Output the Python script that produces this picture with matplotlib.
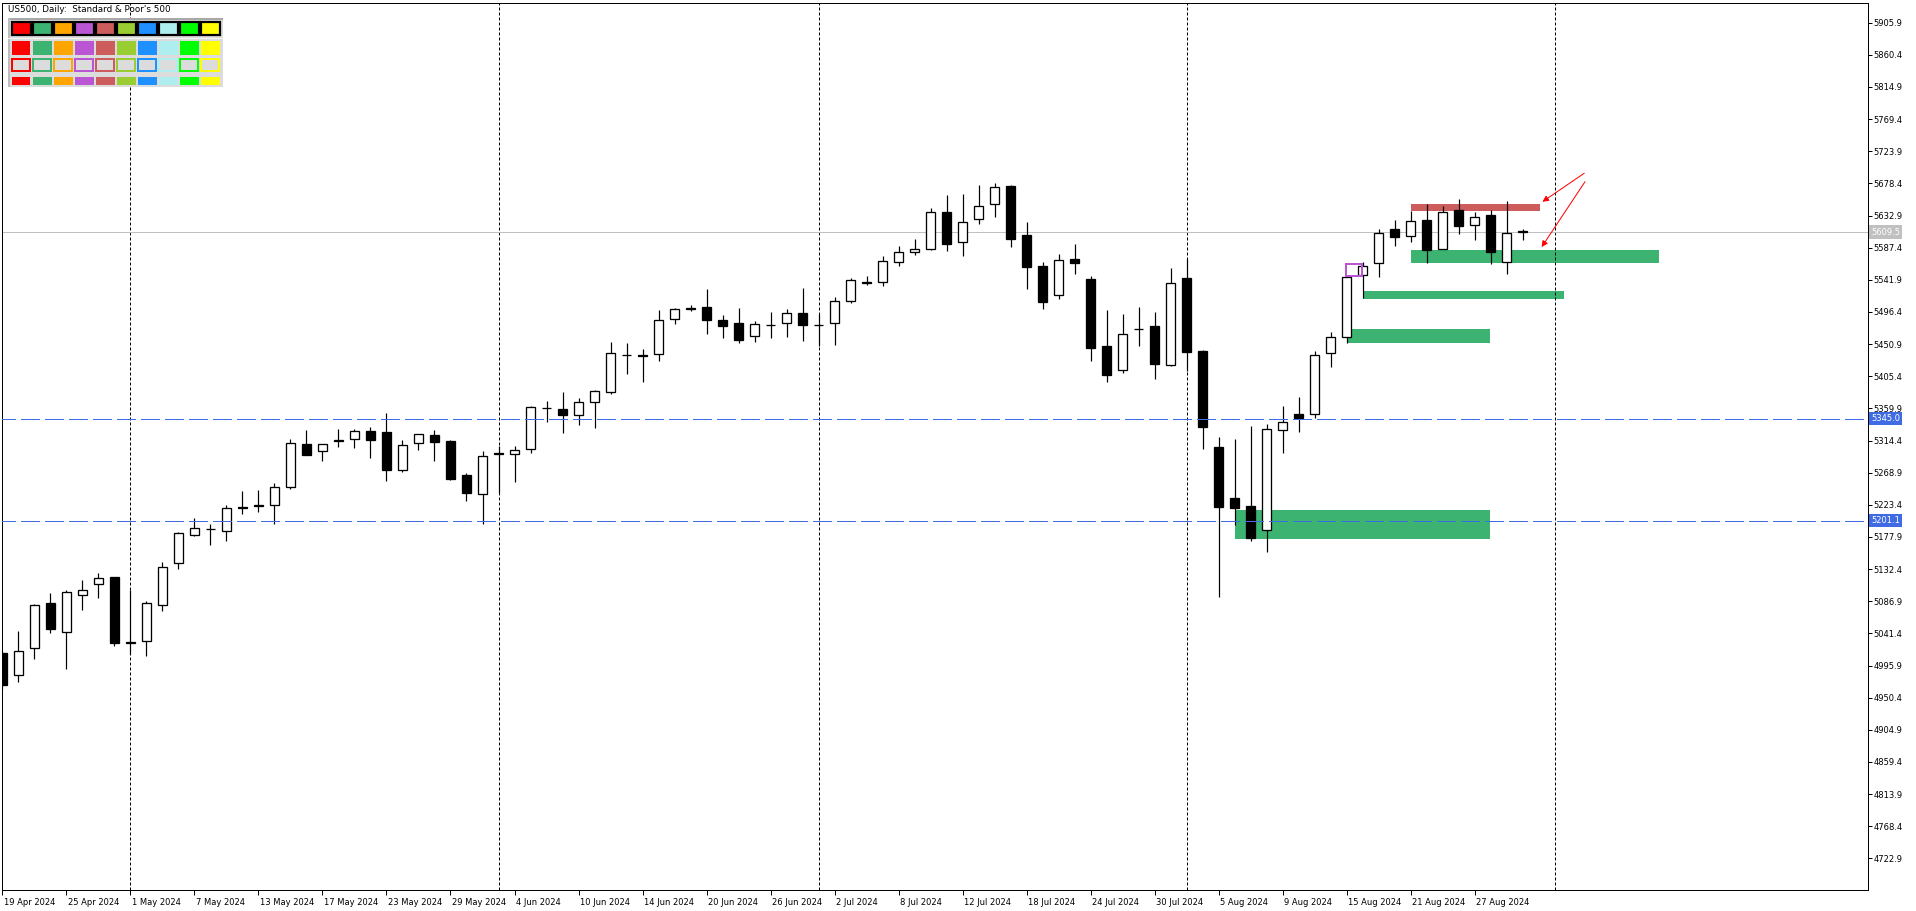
import matplotlib
matplotlib.use("Agg")
import matplotlib.pyplot as plt
import matplotlib.transforms as mtransforms
from matplotlib.patches import Rectangle, FancyArrowPatch

# daily bars, 19 Apr 2024 .. 30 Aug 2024 (index 0..95)
opens = [5013.6, 4982.0, 5020.2, 5083.9, 5042.9, 5095.3, 5110.8, 5120.7, 5028.5, 5031.1,
         5082.0, 5141.5, 5181.1, 5189.7, 5186.8, 5219.9, 5222.7, 5222.7, 5248.2, 5309.0,
         5299.1, 5314.7, 5316.1, 5327.9, 5326.5, 5272.2, 5310.4, 5321.8, 5313.3, 5265.1,
         5238.2, 5296.3, 5294.9, 5301.9, 5360.9, 5358.5, 5350.0, 5368.4, 5382.6, 5436.0,
         5435.0, 5436.4, 5485.9, 5501.5, 5502.9, 5484.5, 5480.3, 5461.9, 5478.4, 5480.3,
         5494.4, 5478.5, 5481.2, 5511.4, 5538.8, 5538.3, 5566.6, 5580.8, 5585.1, 5637.5,
         5595.0, 5627.5, 5648.8, 5674.7, 5604.9, 5561.0, 5520.9, 5570.9, 5542.6, 5447.8,
         5413.8, 5472.0, 5476.1, 5421.8, 5544.0, 5440.7, 5304.8, 5232.6, 5221.3, 5187.3,
         5328.8, 5351.5, 5351.5, 5437.8, 5460.5, 5548.2, 5565.2, 5613.3, 5603.4, 5626.1,
         5585.0, 5640.2, 5619.0, 5633.2, 5566.6, 5610.5]
highs = [5016.0, 5044.8, 5083.0, 5098.6, 5102.3, 5117.0, 5126.9, 5121.5, 5102.3, 5087.2,
         5142.4, 5184.9, 5204.7, 5195.8, 5222.7, 5243.0, 5244.8, 5253.8, 5316.1, 5329.3,
         5309.0, 5330.7, 5330.7, 5333.6, 5353.4, 5314.7, 5323.2, 5329.3, 5314.7, 5268.0,
         5299.6, 5306.2, 5306.2, 5362.8, 5369.9, 5383.1, 5374.1, 5385.9, 5453.9, 5452.0,
         5443.5, 5499.2, 5502.0, 5505.8, 5528.9, 5492.1, 5502.0, 5484.1, 5496.3, 5500.6,
         5530.3, 5493.0, 5517.6, 5544.0, 5546.8, 5575.1, 5589.3, 5599.5, 5643.1, 5662.0,
         5663.4, 5676.2, 5679.0, 5676.2, 5623.8, 5566.7, 5578.5, 5592.2, 5546.8, 5498.7,
         5493.1, 5503.4, 5495.9, 5558.6, 5571.4, 5442.1, 5319.4, 5316.6, 5335.0, 5337.3,
         5363.3, 5376.0, 5441.1, 5467.5, 5545.4, 5566.6, 5613.3, 5626.6, 5639.8, 5649.2,
         5645.9, 5655.8, 5637.4, 5640.2, 5653.0, 5613.3]
lows = [4962.0, 4973.0, 5005.6, 5042.4, 4991.4, 5075.0, 5091.9, 5024.0, 5012.2, 5009.8,
        5073.6, 5133.0, 5179.2, 5167.0, 5172.2, 5210.9, 5213.7, 5196.7, 5246.3, 5294.0,
        5285.9, 5305.7, 5304.3, 5290.1, 5257.6, 5270.3, 5301.5, 5285.9, 5259.0, 5229.3,
        5196.7, 5240.6, 5256.2, 5297.2, 5341.1, 5325.5, 5336.8, 5332.6, 5380.7, 5409.0,
        5397.7, 5427.4, 5479.8, 5498.2, 5465.7, 5460.0, 5452.9, 5454.3, 5460.0, 5461.4,
        5455.7, 5447.7, 5450.1, 5508.6, 5534.6, 5533.1, 5561.9, 5577.7, 5583.7, 5583.2,
        5576.1, 5621.4, 5631.3, 5588.8, 5529.4, 5501.1, 5515.2, 5550.6, 5427.5, 5397.7,
        5410.5, 5448.7, 5402.0, 5420.4, 5412.8, 5302.9, 5093.4, 5195.3, 5172.7, 5157.1,
        5297.2, 5326.9, 5346.8, 5418.9, 5452.0, 5516.6, 5546.3, 5590.2, 5595.9, 5566.2,
        5585.0, 5607.2, 5598.7, 5564.7, 5550.6, 5597.8]
closes = [4967.8, 5016.0, 5081.1, 5047.1, 5099.5, 5102.3, 5119.3, 5028.2, 5027.5, 5083.9,
          5134.9, 5183.0, 5190.1, 5188.7, 5218.4, 5218.9, 5221.7, 5248.2, 5310.4, 5294.4,
          5309.0, 5313.7, 5327.9, 5315.6, 5272.2, 5307.6, 5323.2, 5312.8, 5260.4, 5240.6,
          5292.0, 5295.3, 5300.5, 5361.4, 5359.9, 5351.0, 5368.4, 5384.0, 5437.8, 5435.0,
          5434.0, 5484.5, 5500.1, 5500.5, 5484.5, 5477.0, 5457.2, 5478.9, 5477.4, 5494.4,
          5478.4, 5477.5, 5511.4, 5541.2, 5537.8, 5568.1, 5580.8, 5585.0, 5637.5, 5593.1,
          5623.3, 5645.9, 5672.8, 5600.2, 5560.5, 5511.0, 5569.5, 5566.2, 5445.9, 5407.6,
          5464.7, 5471.6, 5423.2, 5536.9, 5440.2, 5334.0, 5220.8, 5219.4, 5176.9, 5330.3,
          5340.2, 5346.8, 5435.0, 5460.5, 5545.4, 5561.0, 5607.7, 5603.0, 5624.7, 5583.6,
          5637.4, 5617.6, 5630.3, 5581.7, 5607.7, 5609.5]

date_labels = ["19 Apr 2024", "25 Apr 2024", "1 May 2024", "7 May 2024", "13 May 2024",
               "17 May 2024", "23 May 2024", "29 May 2024", "4 Jun 2024", "10 Jun 2024",
               "14 Jun 2024", "20 Jun 2024", "26 Jun 2024", "2 Jul 2024", "8 Jul 2024",
               "12 Jul 2024", "18 Jul 2024", "24 Jul 2024", "30 Jul 2024", "5 Aug 2024",
               "9 Aug 2024", "15 Aug 2024", "21 Aug 2024", "27 Aug 2024"]
date_label_bars = [0, 4, 8, 12, 16, 20, 24, 28, 32, 36, 40, 44, 48, 52, 56, 60,
                   64, 68, 72, 76, 80, 84, 88, 92]
price_ticks = [4722.9, 4768.4, 4813.9, 4859.4, 4904.9, 4950.4, 4995.9, 5041.4, 5086.9,
               5132.4, 5177.9, 5223.4, 5268.9, 5314.4, 5359.9, 5405.4, 5450.9, 5496.4,
               5541.9, 5587.4, 5632.9, 5678.4, 5723.9, 5769.4, 5814.9, 5860.4, 5905.9]

month_separators = [8, 31, 51, 74, 97]
level_lines = [5345.0, 5201.1]
bid_price = 5609.5

# zones drawn on the chart
zone_start = [77, 84, 85, 88, 88]
zone_end = [92.97, 92.97, 97.6, 103.5, 96.1]
zone_low = [5175.3, 5452.4, 5515.2, 5566.2, 5639.3]
zone_high = [5216.0, 5472.2, 5526.0, 5584.1, 5649.7]
zone_colors = ["#3CB371", "#3CB371", "#3CB371", "#3CB371", "#CD5C5C"]

box_start, box_end, box_low, box_high = 83.95, 84.99, 5546.8, 5564.7

arrow_from = [(99.0, 5695.0), (99.0, 5684.1)]
arrow_to = [(96.1, 5650.2), (96.1, 5585.0)]

palette = ["#FF0000", "#3CB371", "#FFA500", "#BA55D3", "#CD5C5C",
           "#9ACD32", "#1E90FF", "#AFEEEE", "#00FF00", "#FFFF00"]

W, H = 1916, 911
PX = 0.72  # one pixel in points at dpi 100
plt.rcParams["font.family"] = ["DejaVu Sans"]
FS = 6

fig = plt.figure(figsize=(W / 100, H / 100), dpi=100, facecolor="white")
ax = fig.add_axes([2 / W, (H - 890) / H, (1868 - 2) / W, (890 - 3) / H])
ax.set_xlim(-0.03, 116.59)
ax.set_ylim(4678.1, 5933.8)

for s in ax.spines.values():
    s.set_linewidth(PX)
    s.set_color("black")

# zones behind candles
for x0, x1, lo, hi, c in zip(zone_start, zone_end, zone_low, zone_high, zone_colors):
    ax.add_patch(Rectangle((x0, lo), x1 - x0, hi - lo, facecolor=c, edgecolor="none", zorder=1))

for sx in month_separators:
    ax.axvline(sx, color="black", lw=PX, ls=(0, (3, 2)), zorder=1.5)

ax.axhline(bid_price, color="#C0C0C0", lw=PX, zorder=1.6)

# candles
idx = list(range(len(opens)))
ax.vlines(idx, lows, highs, color="black", lw=PX * 1.2, zorder=3)
bottoms = [min(o, c) for o, c in zip(opens, closes)]
heights = [max(abs(c - o), 0.8) for o, c in zip(opens, closes)]
fills = ["white" if c >= o else "black" for o, c in zip(opens, closes)]
ax.bar(idx, heights, bottom=bottoms, width=0.6, color=fills, edgecolor="black",
       linewidth=PX * 1.3, zorder=3.5)

for lv in level_lines:
    ax.axhline(lv, color="#3F6CE4", lw=PX * 1.2, ls=(4, (15, 5)), zorder=4,
               antialiased=False)

ax.add_patch(Rectangle((box_start, box_low), box_end - box_start, box_high - box_low,
                       fill=False, edgecolor="#BA55D3", lw=PX * 2, zorder=5))

for a, b in zip(arrow_from, arrow_to):
    ax.add_patch(FancyArrowPatch(a, b, arrowstyle="-|>", mutation_scale=9,
                                 color="red", lw=PX, zorder=6))

# axes ticks
ax.yaxis.tick_right()
ax.set_yticks(price_ticks)
ax.set_yticklabels([f"{p:.1f}" for p in price_ticks])
ax.tick_params(axis="y", length=4 * PX, width=PX, pad=1, labelsize=FS)
ax.set_xticks(date_label_bars)
ax.set_xticklabels(date_labels)
ax.tick_params(axis="x", length=5 * PX, width=PX, pad=2, labelsize=FS)
off = mtransforms.ScaledTranslation(1.5 / 100, 0, fig.dpi_scale_trans)
for lab in ax.get_xticklabels():
    lab.set_horizontalalignment("left")
    lab.set_transform(lab.get_transform() + off)

# price tags on the right scale
tag = mtransforms.blended_transform_factory(ax.transAxes, ax.transData)
for price, bg in [(bid_price, "#C0C0C0"), (level_lines[0], "#3F6CE4"), (level_lines[1], "#3F6CE4")]:
    ax.text(1.0018, price, f"{price:.1f}", transform=tag, ha="left", va="center",
            fontsize=FS, color="white", zorder=10, clip_on=False,
            bbox=dict(boxstyle="square,pad=0.25", fc=bg, ec="none"))

# overlay: title and colour panel (pixel coordinates)
ov = fig.add_axes([0, 0, 1, 1], zorder=20)
ov.set_xlim(0, W)
ov.set_ylim(H, 0)
ov.axis("off")
ov.patch.set_alpha(0)
ov.text(8, 9.5, "US500, Daily:  Standard & Poor's 500", fontsize=FS + 0.3,
        va="center", ha="left", color="black")

ov.add_patch(Rectangle((8.3, 17.7), 214.4, 69.6, facecolor="#DCDCDC", edgecolor="none"))
ov.add_patch(Rectangle((8.3, 17.7), 214.4, 1.8, facecolor="#A8A8A8", edgecolor="none"))
ov.add_patch(Rectangle((8.3, 17.7), 1.5, 69.6, facecolor="#BDBDBD", edgecolor="none"))
ov.add_patch(Rectangle((8.3, 38.3), 214.4, 1.0, facecolor="#F4F4F4", edgecolor="none"))
for c, col in enumerate(palette):
    x0 = 12.2 + 21.03 * c
    ov.add_patch(Rectangle((x0, 22.3), 18.5, 13.2, facecolor=col, edgecolor="black", lw=PX * 2.2))
    ov.add_patch(Rectangle((x0 - 0.5, 40.7), 18.8, 14.3, facecolor=col, edgecolor="none"))
    ov.add_patch(Rectangle((x0, 59.0), 18.0, 12.4, facecolor="#DCDCDC", edgecolor=col, lw=PX * 2))
    ov.add_patch(Rectangle((x0 - 0.5, 76.7), 18.8, 8.3, facecolor=col, edgecolor="none"))

fig.savefig("out.png", dpi=100, facecolor="white")
